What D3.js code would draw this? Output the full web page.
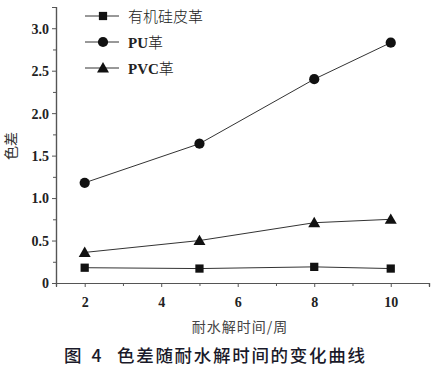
<!DOCTYPE html>
<html>
<head>
<meta charset="utf-8">
<style>
body { margin: 0; background: #fff; }
.tick-label { font-family: "Liberation Serif", "Times New Roman", serif; font-weight: bold; font-size: 14px; fill: #222; }
</style>
</head>
<body>
<svg id="chart" width="434" height="375"></svg>
<script src="https://cdn.jsdelivr.net/npm/d3@7/dist/d3.min.js"></script>
<script>
// data
const weeks = [2, 5, 8, 10];
const silicone = [0.18, 0.17, 0.19, 0.17];
const pu = [1.18, 1.64, 2.40, 2.83];
const pvc = [0.36, 0.50, 0.71, 0.75];
const seriesNames = ["有机硅皮革", "PU革", "PVC革"];
const xTicks = [2, 4, 6, 8, 10];
const yTicks = [0, 0.5, 1.0, 1.5, 2.0, 2.5, 3.0];
const yTickLabels = ["0", "0.5", "1.0", "1.5", "2.0", "2.5", "3.0"];

const svg = d3.select("#chart");
const plotLeft = 56, plotRight = 429, plotTop = 7, plotBottom = 283;

const x = d3.scaleLinear().domain([1.25, 11]).range([plotLeft, plotRight]);
const y = d3.scaleLinear().domain([0, 3.25]).range([plotBottom, plotTop]);
const axisColor = "#555";

// y axis
const yAxis = d3.axisLeft(y).tickValues(yTicks).tickSize(4).tickFormat((d, i) => yTickLabels[i]);
const yG = svg.append("g").attr("transform", `translate(${plotLeft},0)`).call(yAxis);
const yMinor = d3.axisLeft(y).tickValues(d3.range(0.25, 3.3, 0.5)).tickSize(3).tickFormat("");
svg.append("g").attr("transform", `translate(${plotLeft},0)`).call(yMinor);

// x axis
const xAxis = d3.axisBottom(x).tickValues(xTicks).tickSize(4).tickFormat(d3.format("d"));
const xG = svg.append("g").attr("transform", `translate(0,${plotBottom})`).call(xAxis);
const xMinor = d3.axisBottom(x).tickValues([3, 5, 7, 9, 11]).tickSize(3).tickFormat("");
svg.append("g").attr("transform", `translate(0,${plotBottom})`).call(xMinor);

svg.selectAll(".domain").attr("stroke", axisColor).attr("stroke-width", 1.2);
svg.selectAll(".tick line").attr("stroke", axisColor);
yG.selectAll(".tick text").attr("class", "tick-label").attr("x", -7).attr("dy", "0.35em");
xG.selectAll(".tick text").attr("class", "tick-label").attr("y", 14).attr("dy", "0.71em");

// lines + markers
const lineGen = d3.line().x((d, i) => x(weeks[i])).y(d => y(d));
const allSeries = [silicone, pu, pvc];
const shapes = [d3.symbolSquare, d3.symbolCircle, d3.symbolTriangle];
const sizes = [68, 82, 62];
const symbolOffsetY = [0, 0, 1];

allSeries.forEach((vals, s) => {
    svg.append("path")
        .attr("d", lineGen(vals))
        .attr("fill", "none")
        .attr("stroke", "#333")
        .attr("stroke-width", 1);
    svg.selectAll("path.m" + s)
        .data(vals)
        .enter()
        .append("path")
        .attr("class", "m" + s)
        .attr("transform", (d, i) => `translate(${x(weeks[i])},${y(d) + symbolOffsetY[s]})`)
        .attr("d", d3.symbol().type(shapes[s]).size(sizes[s]))
        .attr("fill", "#111");
});

// legend
const legendY = [16, 42, 68];
seriesNames.forEach((name, s) => {
    const g = svg.append("g").attr("transform", `translate(0,${legendY[s]})`);
    g.append("line").attr("x1", 85).attr("x2", 119).attr("y1", 0).attr("y2", 0)
        .attr("stroke", "#333").attr("stroke-width", 1);
    g.append("path").attr("transform", `translate(103,${symbolOffsetY[s]})`)
        .attr("d", d3.symbol().type(shapes[s]).size(sizes[s])).attr("fill", "#111");
    const t = g.append("text").attr("x", 128).attr("y", 5.5)
        .attr("font-size", "15px").attr("fill", "#222");
    if (s === 0) {
        t.attr("font-family", "Noto Sans CJK SC").attr("font-weight", 300).text(name);
    } else {
        const latin = name.slice(0, -1);
        t.append("tspan").attr("font-family", "Liberation Serif").attr("font-weight", "bold").text(latin);
        t.append("tspan").attr("font-family", "Noto Sans CJK SC").attr("font-weight", 300).text(name.slice(-1));
    }
});

// axis titles
svg.append("text")
    .attr("transform", "translate(16,146) rotate(-90)")
    .attr("text-anchor", "middle")
    .attr("font-family", "Noto Sans CJK SC")
    .attr("font-size", "14px")
    .attr("fill", "#333")
    .text("色差");

svg.append("text")
    .attr("x", 240).attr("y", 332)
    .attr("text-anchor", "middle")
    .attr("font-family", "Noto Sans CJK SC")
    .attr("font-size", "14px")
    .attr("letter-spacing", "1px")
    .attr("fill", "#444")
    .text("耐水解时间/周");

// caption
const cap = svg.append("text")
    .attr("x", 64).attr("y", 362)
    .attr("font-family", "Noto Sans CJK SC")
    .attr("font-size", "17.5px")
    .attr("font-weight", 500)
    .attr("fill", "#1a1a2a");
cap.append("tspan").attr("letter-spacing", "3px").text("图 4");
cap.append("tspan").attr("x", 117).attr("letter-spacing", "1.7px").text("色差随耐水解时间的变化曲线");
</script>
</body>
</html>
